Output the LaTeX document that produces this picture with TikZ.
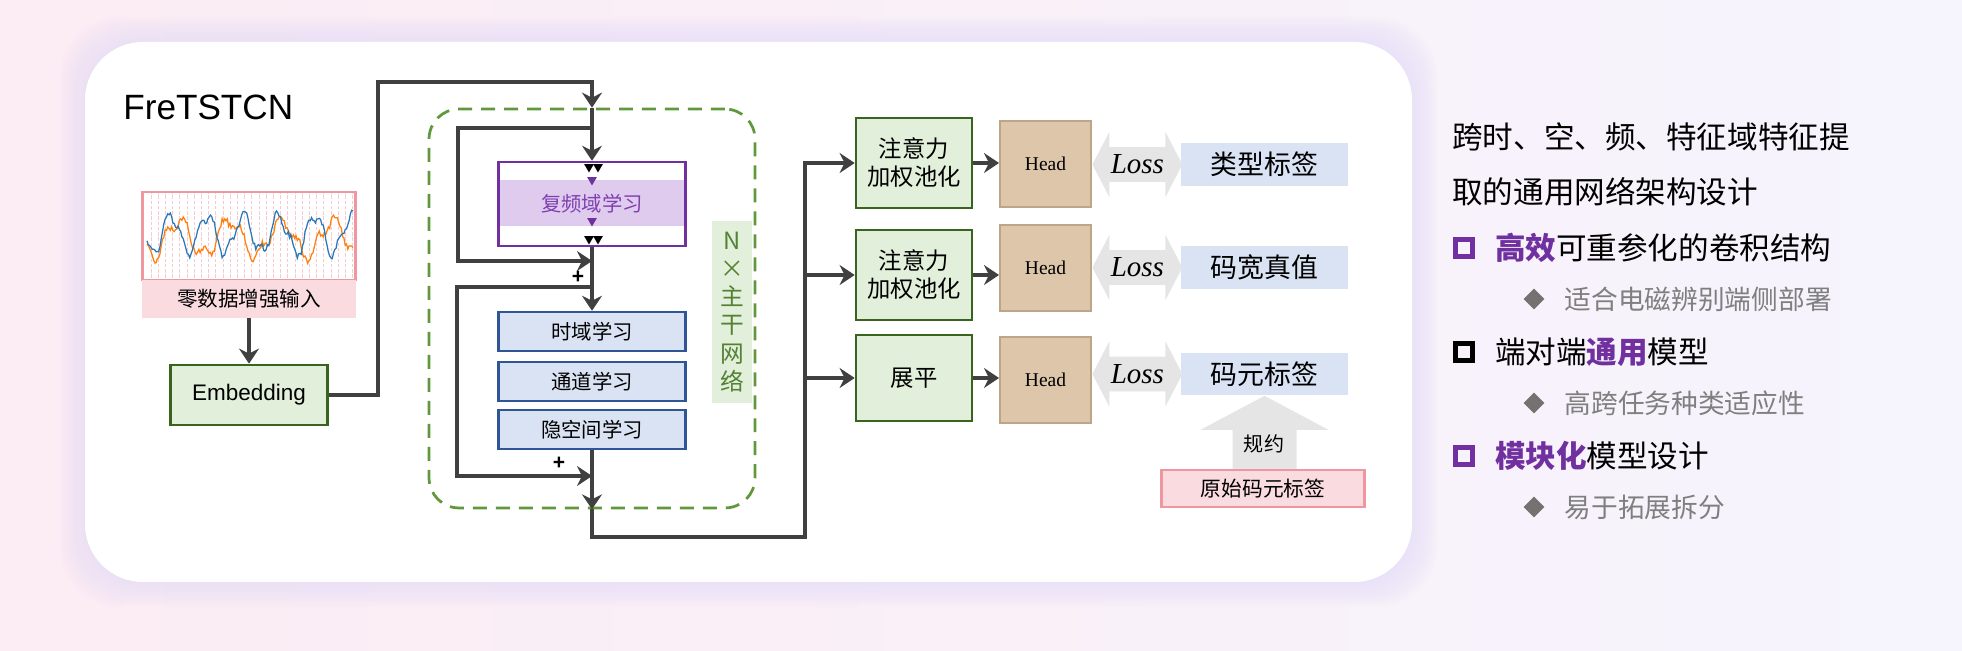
\documentclass[tikz,border=0pt]{standalone}
\usepackage{fontspec}
\setmainfont{Liberation Sans}
\newfontfamily\cjk{Noto Sans CJK SC}
\newfontfamily\tnr{Liberation Serif}
\usepackage{tikz}
\usetikzlibrary{arrows.meta, positioning, shapes.geometric, shapes.arrows}
\definecolor{arrowgray}{RGB}{64,64,64}
\definecolor{dashgreen}{RGB}{98,152,60}
\definecolor{freqpurple}{RGB}{112,48,160}
\definecolor{freqband}{RGB}{222,203,238}
\definecolor{freqtext}{RGB}{128,64,176}
\definecolor{learnblue}{RGB}{47,85,151}
\definecolor{learnlight}{RGB}{218,227,243}
\definecolor{poolgreen}{RGB}{56,100,30}
\definecolor{poollight}{RGB}{226,239,218}
\definecolor{ntext}{RGB}{84,130,53}
\definecolor{headtan}{RGB}{221,198,170}
\definecolor{headedge}{RGB}{190,165,135}
\definecolor{fatgray}{RGB}{229,229,229}
\definecolor{rawpink}{RGB}{250,219,224}
\definecolor{rawedge}{RGB}{240,150,160}
\definecolor{bgpink}{RGB}{252,236,243}
\definecolor{bglav}{RGB}{246,244,253}
\definecolor{halo}{RGB}{226,218,248}
\definecolor{subgray}{RGB}{127,127,127}
\definecolor{diamondgray}{RGB}{118,113,113}
\definecolor{wblue}{RGB}{40,120,185}
\definecolor{worange}{RGB}{255,127,14}
\tikzset{
  conn/.style={-{Stealth[length=0.3cm, width=0.4cm, inset=0.1cm]},
    line width=0.08cm, color=arrowgray},
  wire/.style={line width=0.08cm, color=arrowgray},
  learnblock/.style={rectangle, draw=learnblue, fill=learnlight, line width=0.05cm,
    minimum width=3.74cm, minimum height=0.78cm, inner sep=0pt,
    font=\cjk\fontsize{11.6}{14}\selectfont},
  freqblock/.style={rectangle, draw=freqpurple, fill=white, line width=0.05cm,
    minimum width=3.74cm, minimum height=1.68cm, inner sep=0pt, text=freqtext,
    font=\cjk\fontsize{11.6}{14}\selectfont},
  poolblock/.style={rectangle, draw=poolgreen, fill=poollight, line width=0.055cm,
    minimum width=2.32cm, minimum height=1.8cm, inner sep=0pt, align=center,
    font=\cjk\fontsize{13.3}{15.9}\selectfont},
  headblock/.style={rectangle, draw=headedge, fill=headtan, line width=0.04cm,
    minimum width=1.82cm, minimum height=1.72cm,
    font=\tnr\fontsize{11.1}{13}\selectfont},
  lossarrow/.style={double arrow, fill=fatgray, double arrow head extend=0.3cm,
    double arrow tip angle=125, minimum height=1.8cm, inner ysep=0.15cm,
    inner xsep=0pt, anchor=west, font=\tnr\itshape\fontsize{16.5}{18}\selectfont},
  labelblock/.style={rectangle, fill=learnlight, minimum width=3.34cm,
    minimum height=0.86cm, inner sep=0pt, font=\cjk\fontsize{15.3}{17}\selectfont},
  marker/.style={regular polygon, regular polygon sides=3, shape border rotate=180,
    inner sep=0pt, minimum size=0.22cm},
  bullet/.style={rectangle, draw, line width=0.09cm, minimum size=0.34cm, inner sep=0pt},
  subbullet/.style={diamond, fill=diamondgray, minimum width=0.42cm,
    minimum height=0.42cm, inner sep=0pt},
  headline/.style={anchor=west, inner sep=0pt, font=\cjk\fontsize{17.4}{20}\selectfont},
  subline/.style={anchor=west, inner sep=0pt, text=subgray,
    font=\cjk\fontsize{15.2}{18}\selectfont},
}
\begin{document}
\begin{tikzpicture}[x=0.02cm, y=-0.02cm]
  \useasboundingbox (0,0) rectangle (1962,651);
  % background and panel
  \shade[left color=bgpink, right color=bglav] (0,0) rectangle (1962,651);
  \foreach \r in {1,...,10}
    \fill[halo, opacity=0.07, rounded corners=1.2cm]
      ({85-2.5*\r},{42-2.5*\r}) rectangle ({1412+2.5*\r},{582+2.5*\r});
  \fill[white, rounded corners=1.16cm] (85,42) rectangle (1412,582);

  \node[anchor=west, inner sep=0pt, font=\fontsize{20}{24}\selectfont] (title)
    at (123,107) {FreTSTCN};

  % input
  \node[rectangle, fill=white, minimum width=4.26cm, minimum height=1.76cm,
        inner sep=0pt, outer sep=0pt] (wave) at (249,236) {};
  \begin{scope}
    \clip (wave.south west) rectangle (wave.north east);
    \foreach \i in {0,...,28}
      \draw[rawedge!50, line width=0.5pt, dash pattern=on 2pt off 1pt]
        ({151+7.2*\i},190) -- ++(0,92);
    \pgfmathsetseed{11}
    \draw[worange, line width=0.025cm] plot[domain=147:353, samples=160]
      (\x, {238+17*sin(7*\x+100)+7*sin(19*\x)+3*rand});
    \draw[wblue, line width=0.025cm] plot[domain=147:353, samples=160]
      (\x, {234+18*sin(10*\x)+6*sin(23*\x+40)+3*rand});
  \end{scope}
  \draw[rawedge, line width=0.05cm] (wave.south west) rectangle (wave.north east);
  \node[rectangle, fill=rawpink, minimum width=4.28cm, minimum height=0.76cm,
        inner sep=0pt, font=\cjk\fontsize{11.7}{14}\selectfont] (wavelbl)
    at (249,299) {零数据增强输入};
  \node[poolblock, minimum width=3.14cm, minimum height=1.2cm,
        font=\fontsize{12.8}{15}\selectfont] (emb) at (249,395) {Embedding};
  \draw[conn] (wavelbl.south) -- (emb.north);

  % backbone
  \node[rectangle, fill=poollight, minimum width=0.8cm, minimum height=3.64cm,
        inner sep=0pt, align=center, text=ntext,
        font=\cjk\fontsize{13.5}{16.1}\selectfont] (nbox)
    at (732,312) {N\\×\\主\\干\\网\\络};
  \node[rectangle, draw=dashgreen, line width=0.055cm, dash pattern=on 0.28cm off 0.18cm,
        rounded corners=0.6cm, minimum width=6.52cm, minimum height=7.98cm]
    (backbone) at (592,308.5) {};
  \node[freqblock, path picture={
          \fill[freqband] ([yshift=0.48cm]path picture bounding box.west)
            rectangle ([yshift=-0.44cm]path picture bounding box.east);}]
    (freq) at (592,204) {复频域学习};
  \node[marker, fill=black] (mk1) at (589,167) {};
  \node[marker, fill=black] (mk2) at (598,167) {};
  \node[marker, fill=freqpurple] (mk3) at (592,180) {};
  \node[marker, fill=freqpurple] (mk4) at (592,221) {};
  \node[marker, fill=black] (mk5) at (589,239) {};
  \node[marker, fill=black] (mk6) at (598,239) {};
  \node[learnblock] (time) at (592,331.5) {时域学习};
  \node[learnblock] (chan) at (592,381.5) {通道学习};
  \node[learnblock] (latent) at (592,429.5) {隐空间学习};

  \coordinate (entry) at (592,82);
  \coordinate (split1) at (592,128);
  \coordinate (join1) at (592,261);
  \coordinate (split2) at (592,287);
  \coordinate (join2) at (592,476);
  \draw[conn] (emb.east) -- ++(49,0) |- (entry) -- (backbone.north);
  \draw[conn] (backbone.north) -- (freq.north);
  \draw[conn] (split1) -- ++(-134,0) |- (join1);
  \draw[conn] (freq.south) -- (time.north);
  \draw[conn] (split2) -- ++(-135,0) |- (join2);
  \draw[conn] (latent.south) -- (backbone.south);
  \node[inner sep=0pt, font=\bfseries\fontsize{12}{14}\selectfont] (plus1) at (578,277) {+};
  \node[inner sep=0pt, font=\bfseries\fontsize{12}{14}\selectfont] (plus2) at (559,463) {+};

  % heads
  \node[poolblock] (pool1) at (914,163) {注意力\\加权池化};
  \node[poolblock] (pool2) at (914,275) {注意力\\加权池化};
  \node[poolblock, minimum height=1.72cm] (pool3) at (914,378) {展平};
  \coordinate (trunkbot) at (805,537);
  \coordinate (trunktop) at (805,163);
  \draw[conn] (backbone.south) |- (trunkbot) -- (trunktop) -- (pool1.west);
  \draw[conn] (trunktop |- pool2.west) -- (pool2.west);
  \draw[conn] (trunktop |- pool3.west) -- (pool3.west);

  \node[headblock] (head1) at (1045.5,164) {Head};
  \node[headblock] (head2) at (1045.5,268) {Head};
  \node[headblock] (head3) at (1045.5,380) {Head};
  \draw[conn] (pool1.east) -- (pool1.east -| head1.west);
  \draw[conn] (pool2.east) -- (pool2.east -| head2.west);
  \draw[conn] (pool3.east) -- (pool3.east -| head3.west);

  \node[labelblock] (lab1) at (1264.5,164.5) {类型标签};
  \node[labelblock] (lab2) at (1264.5,267.5) {码宽真值};
  \node[labelblock] (lab3) at (1264.5,374) {码元标签};
  \node[lossarrow] (loss1) at (head1.east |- lab1.west) {Loss};
  \node[lossarrow] (loss2) at (head2.east |- lab2.west) {Loss};
  \node[lossarrow] (loss3) at (head3.east |- lab3.west) {Loss};

  \fill[fatgray] (lab3.south) -- ++(64,34) -- ++(-32,0) -- ++(0,40) -- ++(-64,0)
    -- ++(0,-40) -- ++(-32,0) -- cycle;
  \node[font=\cjk\fontsize{11.4}{14}\selectfont] (reduce) at (1264,444) {规约};
  \node[rectangle, draw=rawedge, fill=rawpink, line width=0.05cm, minimum width=4.06cm,
        minimum height=0.74cm, inner sep=0pt, font=\cjk\fontsize{11.8}{14}\selectfont]
    (raw) at (1263,488.5) {原始码元标签};

  % summary
  \node[headline] (intro1) at (1452,137) {跨时、空、频、特征域特征提};
  \node[headline] (intro2) at (1452,192) {取的通用网络架构设计};
  \node[bullet, draw=freqpurple] (b1) at (1464,248) {};
  \node[headline, right=0.4cm of b1] (p1)
    {\textcolor{freqpurple}{\bfseries 高效}可重参化的卷积结构};
  \node[subbullet] (d1) at (1534,299) {};
  \node[subline, right=0.39cm of d1] (s1) {适合电磁辨别端侧部署};
  \node[bullet, draw=black] (b2) at (1464,352) {};
  \node[headline, right=0.4cm of b2] (p2)
    {端对端\textcolor{freqpurple}{\bfseries 通用}模型};
  \node[subbullet] (d2) at (1534,403) {};
  \node[subline, right=0.39cm of d2] (s2) {高跨任务种类适应性};
  \node[bullet, draw=freqpurple] (b3) at (1464,456) {};
  \node[headline, right=0.4cm of b3] (p3)
    {\textcolor{freqpurple}{\bfseries 模块化}模型设计};
  \node[subbullet] (d3) at (1534,507) {};
  \node[subline, right=0.39cm of d3] (s3) {易于拓展拆分};
\end{tikzpicture}
\end{document}
